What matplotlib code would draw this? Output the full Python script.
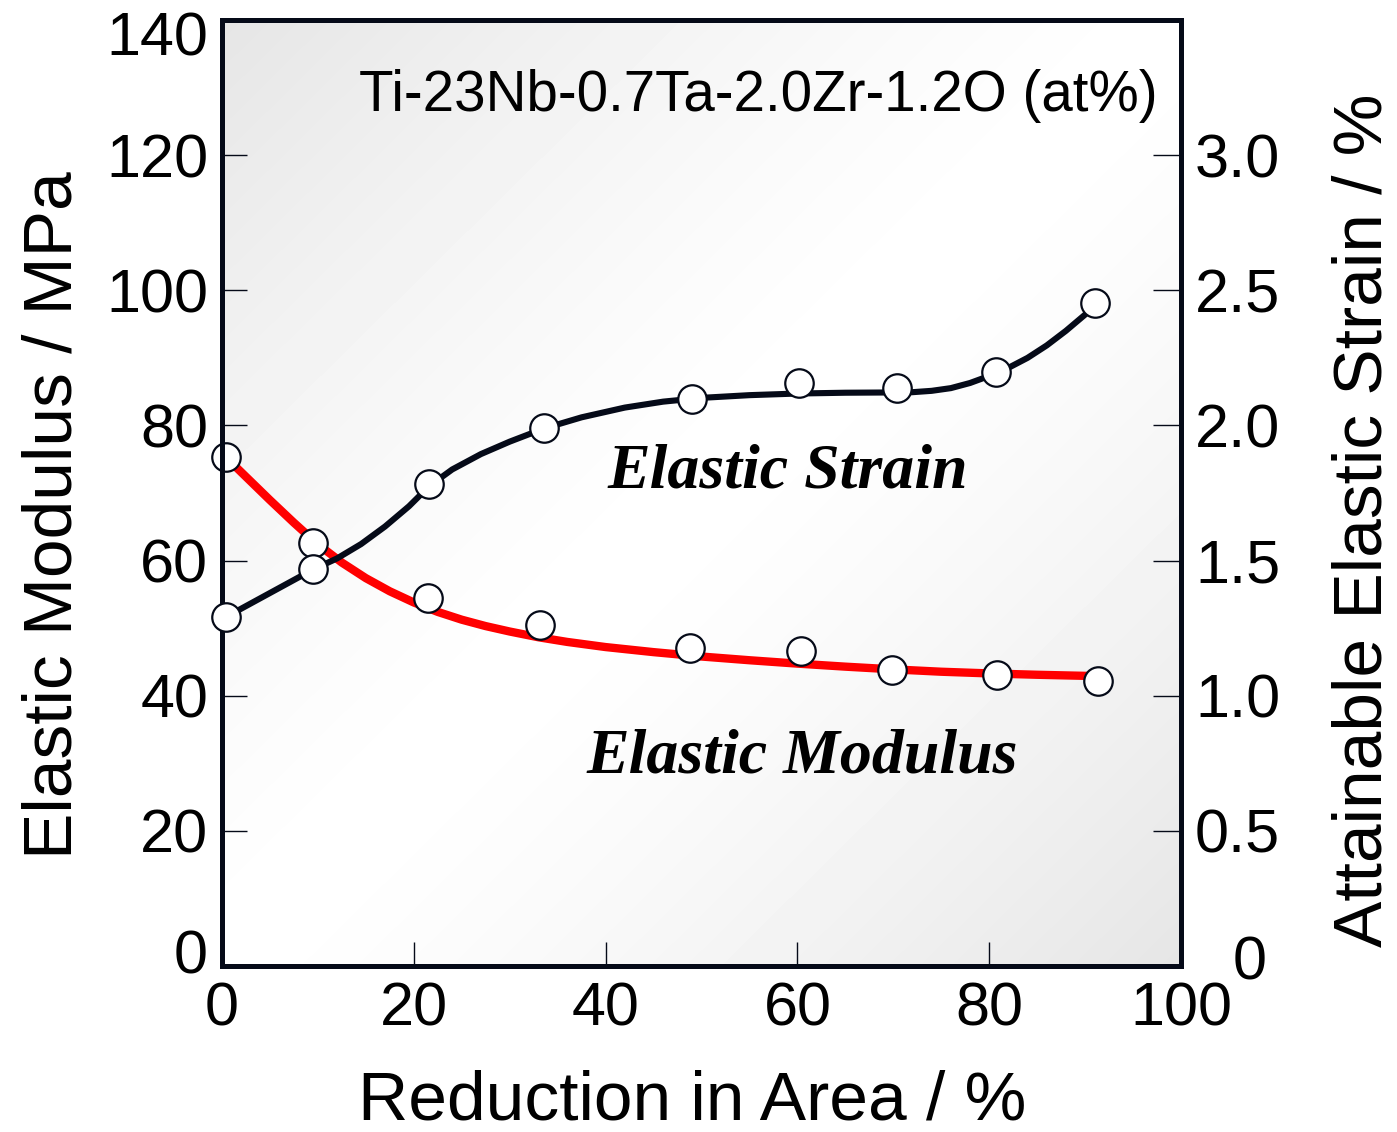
import numpy as np
import matplotlib
matplotlib.use("Agg")
import matplotlib.pyplot as plt
from matplotlib.transforms import ScaledTranslation

# ---------------- data ----------------
reduction_modulus = [0.4, 9.5, 21.5, 33.2, 48.8, 60.4, 69.9, 80.8, 91.3]
elastic_modulus = [75.3, 62.6, 54.4, 50.4, 47.0, 46.6, 43.8, 43.0, 42.2]

reduction_strain = [0.4, 9.5, 21.6, 33.6, 49.0, 60.2, 70.4, 80.7, 91.0]
elastic_strain = [1.291, 1.467, 1.784, 1.991, 2.098, 2.157, 2.139, 2.199, 2.453]

# traced guide curves (fit lines drawn in the reference)
modulus_curve_x = [0.4, 2.5, 5.0, 7.5, 10.0, 12.5, 15.0, 17.5, 20.0, 22.5,
                   25.0, 27.5, 30.0, 33.0, 36.0, 40.0, 45.0, 50.0, 55.0, 60.0,
                   65.0, 70.0, 75.0, 80.0, 85.0, 91.3]
modulus_curve_y = [75.3, 72.4, 68.95, 65.6, 62.4, 59.7, 57.4, 55.45, 53.8, 52.4,
                   51.25, 50.3, 49.5, 48.65, 47.96, 47.2, 46.45, 45.8, 45.25, 44.75,
                   44.3, 43.9, 43.55, 43.3, 43.1, 42.9]

strain_curve_x = [0.4, 5.0, 9.5, 12.0, 14.5, 17.0, 19.5, 21.6, 24.0, 27.0,
                  30.0, 33.6, 37.5, 42.0, 46.0, 50.0, 55.0, 60.0, 65.0, 70.0,
                  72.0, 74.0, 76.0, 78.0, 80.0, 82.0, 84.0, 86.0, 88.0, 90.0, 91.0]
strain_curve_y = [1.291, 1.380, 1.467, 1.508, 1.561, 1.626, 1.701, 1.775, 1.837, 1.894,
                  1.940, 1.989, 2.030, 2.066, 2.088, 2.102, 2.112, 2.118, 2.121, 2.122,
                  2.123, 2.128, 2.138, 2.157, 2.183, 2.213, 2.250, 2.296, 2.350, 2.410, 2.445]

x_ticks = [0, 20, 40, 60, 80, 100]
left_ticks = [0, 20, 40, 60, 80, 100, 120, 140]
right_ticks = [0, 0.5, 1.0, 1.5, 2.0, 2.5, 3.0]
right_ticklabels = ["0", "0.5", "1.0", "1.5", "2.0", "2.5", "3.0"]

# ---------------- style ----------------
SANS = ["Liberation Sans", "DejaVu Sans"]
SERIF = ["Liberation Serif", "DejaVu Serif"]
DARK = "#050a18"
plt.rcParams["font.family"] = SANS

fig = plt.figure(figsize=(13.97, 11.32), dpi=100)
ax = fig.add_axes([222 / 1397, 1 - 966 / 1132, (1181 - 222) / 1397, (966 - 20) / 1132])

# background gradient (grey corners, white centre)
N = 300
u = np.linspace(0, 1, N)[None, :]
v = np.linspace(0, 1, N)[:, None]
d = (u + v) / 2.0
grad = 1.0 - 0.10 * np.abs(2 * d - 1) ** 1.3
ax.imshow(grad, extent=[0, 100, 0, 140], origin="upper", cmap="gray",
          vmin=0, vmax=1, aspect="auto", interpolation="bicubic", zorder=0)

ax.set_xlim(0, 100)
ax.set_ylim(0, 140)

ax.plot(modulus_curve_x, modulus_curve_y, color="#ff0000", lw=6.0,
        solid_capstyle="round", solid_joinstyle="round", zorder=2)
ax.plot(reduction_modulus, elastic_modulus, linestyle="none", marker="o",
        markersize=20.5, markerfacecolor="white", markeredgecolor=DARK,
        markeredgewidth=1.6, zorder=3, clip_on=False)

ax2 = ax.twinx()
ax2.set_ylim(0, 3.5)
ax2.patch.set_visible(False)
ax2.plot(strain_curve_x, strain_curve_y, color=DARK, lw=4.4,
         solid_capstyle="round", solid_joinstyle="round", zorder=2)
ax2.plot(reduction_strain, elastic_strain, linestyle="none", marker="o",
         markersize=20.5, markerfacecolor="white", markeredgecolor=DARK,
         markeredgewidth=1.6, zorder=3, clip_on=False)

# spines
for a in (ax, ax2):
    for s in a.spines.values():
        s.set_linewidth(3.6)
        s.set_color(DARK)

# ticks
ax.set_xticks(x_ticks)
ax.set_xticklabels([str(t) for t in x_ticks])
ax.set_yticks(left_ticks)
ax.set_yticklabels([str(t) for t in left_ticks])
ax.tick_params(axis="x", direction="in", length=17, width=1.0, color=DARK,
               labelsize=44, pad=11, top=False)
ax.tick_params(axis="y", direction="in", length=18, width=1.0, color=DARK,
               labelsize=44, pad=10, right=False)
ax2.set_yticks(right_ticks)
ax2.set_yticklabels(right_ticklabels)
ax2.tick_params(axis="y", direction="in", length=20, width=1.0, color=DARK,
                labelsize=44, pad=10)

# hide the ticks that coincide with the frame
for t in ax.xaxis.get_major_ticks():
    if t.get_loc() in (0, 100):
        t.tick1line.set_visible(False)
for t in ax.yaxis.get_major_ticks():
    if t.get_loc() in (0, 140):
        t.tick1line.set_visible(False)
for t in ax2.yaxis.get_major_ticks():
    if t.get_loc() == 0:
        t.tick2line.set_visible(False)

def shift(label, dx_px, dy_px):
    label.set_transform(label.get_transform() +
                        ScaledTranslation(dx_px / 100, dy_px / 100, fig.dpi_scale_trans))

ylabels = ax.get_yticklabels()
shift(ylabels[0], 0, 14)
shift(ylabels[-1], 0, -13)
r_labels = ax2.get_yticklabels()
shift(r_labels[0], 38, 9)

# axis titles
fig.text(72 / 1397, 1 - 515 / 1132, "Elastic Modulus / MPa", rotation=90,
         rotation_mode="anchor", ha="center", va="baseline", fontsize=50)
fig.text(1381 / 1397, 1 - 520 / 1132, "Attainable Elastic Strain / %", rotation=90,
         rotation_mode="anchor", ha="center", va="baseline", fontsize=50)
fig.text(692 / 1397, 1 - 1120 / 1132, "Reduction in Area / %", ha="center",
         va="baseline", fontsize=50)

# annotations
ax.text(97.6, 126.6, "Ti-23Nb-0.7Ta-2.0Zr-1.2O (at%)", ha="right", va="baseline",
        fontsize=40.7, zorder=5)
ax.text(58.96, 70.8, "Elastic Strain", ha="center", va="baseline", fontsize=46,
        family=SERIF, fontweight="bold", fontstyle="italic", zorder=5)
ax.text(60.5, 28.7, "Elastic Modulus", ha="center", va="baseline", fontsize=46,
        family=SERIF, fontweight="bold", fontstyle="italic", zorder=5)

fig.savefig("out.png", dpi=100)
